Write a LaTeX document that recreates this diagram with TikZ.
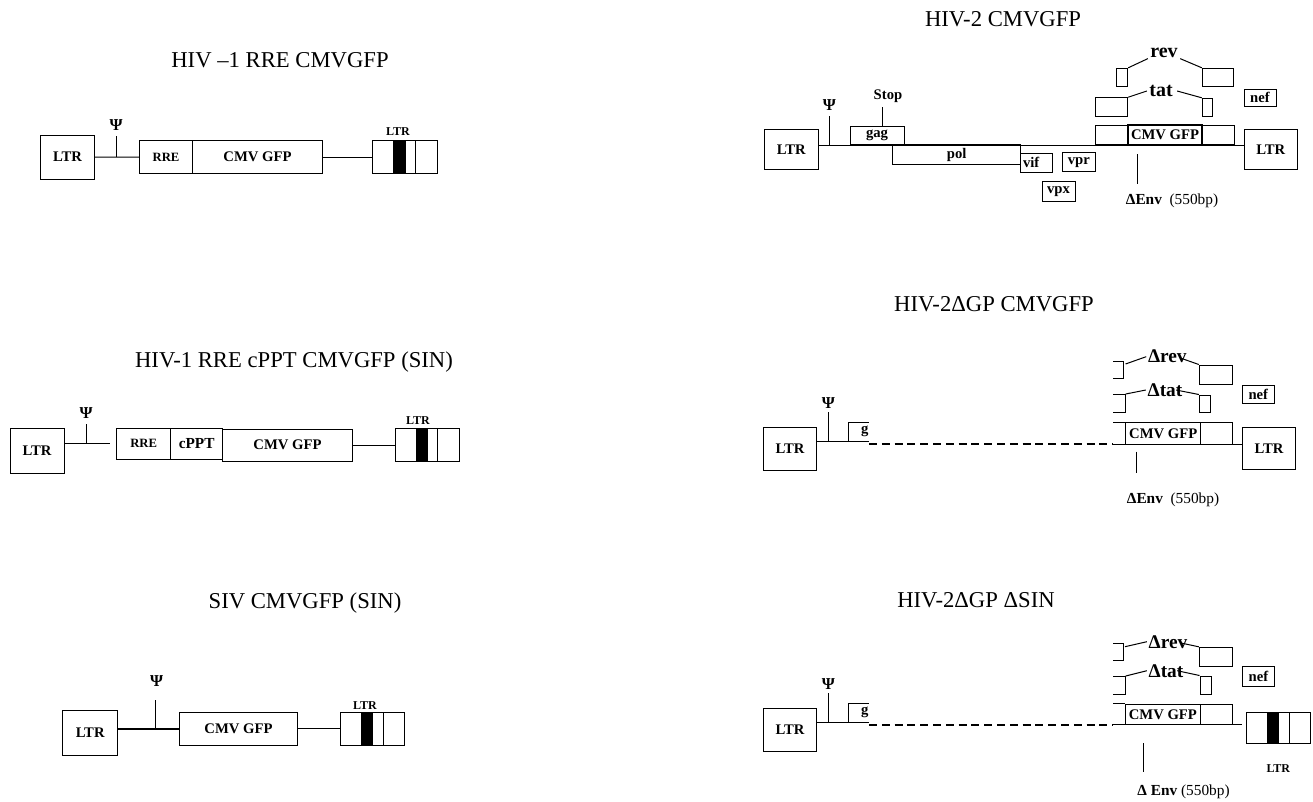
\documentclass[tikz,border=0pt]{standalone}
\usepackage{fontspec}
\setmainfont{Liberation Serif}
\newcommand\gb[7][]{\node[gbox,#1,minimum width={(#5-#3)*0.75pt},minimum height={(#6-#4)*0.75pt}] (#2) at ({(#3+#5)/2},{(#4+#6)/2}) {#7};}
\tikzset{
 gbox/.style={draw, rectangle, inner sep=0pt, line width=0.75pt, font=\fontsize{11}{13}\selectfont\bfseries},
 ttl/.style={font=\fontsize{17}{20}\selectfont, inner sep=0pt, anchor=base},
 lab/.style={font=\fontsize{11}{13}\selectfont\bfseries, inner sep=0pt},
 psil/.style={font=\fontsize{12.5}{14}\selectfont\bfseries, inner sep=0pt},
 slab/.style={font=\fontsize{9}{11}\selectfont\bfseries, inner sep=0pt},
 rfont/.style={font=\fontsize{9.5}{11}\selectfont\bfseries},
 glab/.style={font=\fontsize{15}{17}\selectfont\bfseries, inner sep=0pt},
 dlab/.style={font=\fontsize{14.5}{17}\selectfont\bfseries, inner sep=0pt},
 env/.style={font=\fontsize{11.5}{13}\selectfont, inner sep=0pt},
 ln/.style={line width=0.75pt},
 dashln/.style={line width=1.4pt, dash pattern=on 6pt off 3.6pt},
 thk/.style={line width=1.4pt},
}
\begin{document}
\begin{tikzpicture}[x=0.75pt,y=-0.75pt,line width=0.75pt]
\useasboundingbox (0,0) rectangle (1313,801);

% ================= Diagram 1 =================
\node[ttl] (t1) at (280,67) {HIV –1 RRE CMVGFP};
\gb{ltr1}{40.7}{135}{94.3}{179.3}{LTR}
\gb[rfont]{rre1}{139.3}{140.7}{192.7}{173.7}{RRE}
\gb{cmv1}{192.7}{140.7}{322.3}{173.7}{CMV GFP}
\gb{ltr1r}{372.7}{140.7}{437}{173.7}{}
\fill (393.3,140.7) rectangle (405.7,173.7);
\draw[ln] (415,140.7) -- (415,173.7);
\node[slab] (l1r) at (398,132) {LTR};
\draw[ln] (ltr1.east) -- (rre1.west);
\draw[ln] (cmv1.east) -- (ltr1r.west);
\coordinate (p1b) at (116,157.2); \coordinate (p1t) at (116,136);
\draw[ln] (p1b) -- (p1t);
\node[psil] (psi1) at (116,125) {Ψ};

% ================= Diagram 2 =================
\node[ttl] (t2) at (294,367) {HIV-1 RRE cPPT CMVGFP (SIN)};
\gb{ltr2}{10}{428.3}{64}{473.3}{LTR}
\gb[rfont]{rre2}{116.7}{428.3}{170.7}{459}{RRE}
\gb[font=\fontsize{11.5}{13}\selectfont\bfseries]{cppt2}{170.7}{428.3}{222.7}{459}{cPPT}
\gb{cmv2}{222.7}{429}{352.3}{461}{CMV GFP}
\gb{ltr2r}{395}{428.3}{459.3}{461}{}
\fill (415.7,428.3) rectangle (427.7,461);
\draw[ln] (437.7,428.3) -- (437.7,461);
\node[slab] (l2r) at (418,420.5) {LTR};
\coordinate (m2e) at (110,443.3);
\draw[ln] (ltr2.east |- m2e) -- (m2e);
\draw[ln] (cmv2.east) -- (ltr2r.west |- cmv2.east);
\coordinate (p2b) at (86,443.3); \coordinate (p2t) at (86,424);
\draw[ln] (p2b) -- (p2t);
\node[psil] (psi2) at (86,413) {Ψ};

% ================= Diagram 3 =================
\node[ttl] (t3) at (305,608) {SIV CMVGFP (SIN)};
\gb{ltr3}{62.7}{710}{117.7}{755}{LTR}
\gb{cmv3}{179.3}{712.3}{297.7}{745}{CMV GFP}
\gb{ltr3r}{340}{712.3}{404}{745}{}
\fill (361,712.3) rectangle (372.7,745);
\draw[ln] (383.3,712.3) -- (383.3,745);
\node[slab] (l3r) at (365,706) {LTR};
\draw[line width=1.3pt] (ltr3.east |- cmv3.west) -- (cmv3.west);
\draw[ln] (cmv3.east) -- (ltr3r.west);
\coordinate (p3b) at (155,728.6); \coordinate (p3t) at (155,700);
\draw[ln] (p3b) -- (p3t);
\node[psil] (psi3) at (156.7,681) {Ψ};

% ================= Diagram 4 =================
\node[ttl] (t4) at (1003,26) {HIV-2 CMVGFP};
\gb{ltr4}{764.3}{129.3}{818.3}{169.3}{LTR}
\gb{ltr4r}{1244}{129.3}{1297.7}{169.3}{LTR}
\gb{gag4}{850}{126}{904}{144.7}{gag}
\gb{pol4}{892.7}{144.7}{1020.7}{164.3}{pol}
\gb{vif4}{1020.7}{153.5}{1052.7}{172.5}{}
\node[lab,anchor=west] (vift) at (1022.5,162) {vif};
\gb{vpr4}{1062.7}{152.7}{1095}{171.7}{vpr}
\gb{vpx4}{1042}{181.7}{1075}{201.7}{vpx}
\gb{cma4}{1095}{125}{1127.7}{144.7}{}
\gb[thk]{cmv4}{1127.7}{125}{1202.3}{144.7}{CMV GFP}
\gb{cmb4}{1202.3}{125}{1234.3}{144.7}{}
\draw[ln] (ltr4.east |- gag4.south) -- (ltr4r.west |- gag4.south);
\coordinate (p4b) at (829.3,144.7); \coordinate (p4t) at (829.3,116);
\draw[ln] (p4b) -- (p4t);
\node[psil] (psi4) at (829.3,105) {Ψ};
\coordinate (s4b) at (882.7,126); \coordinate (s4t) at (882.7,106.7);
\draw[ln] (s4b) -- (s4t);
\node[lab] (stop4) at (888,96) {Stop};
\coordinate (e4t) at (1137.7,154.3); \coordinate (e4b) at (1137.7,184);
\draw[ln] (e4t) -- (e4b);
\node[env] (env4) at (1172,201) {\textbf{ΔEnv}~~(550bp)};
% rev / tat
\node[glab] (rev4) at (1164,53.3) {rev};
\gb{revl4}{1116.7}{68.3}{1127.7}{86.7}{}
\gb{revr4}{1202.3}{68.3}{1233.3}{86.7}{}
\draw[ln] (revl4.north east) -- ([xshift=-1.5]rev4.south west);
\draw[ln] ([xshift=1.5]rev4.south east) -- (revr4.north west);
\node[glab] (tat4) at (1161,91) {tat};
\gb{tatl4}{1095}{97.7}{1127.7}{116.7}{}
\gb{tatr4}{1202.3}{98.3}{1212.3}{116.7}{}
\draw[ln] (tatl4.north east) -- ([xshift=-1.5]tat4.west);
\draw[ln] ([xshift=3]tat4.east) -- (tatr4.north west);
\gb{nef4}{1244}{89.3}{1276}{106}{nef}

% ================= Diagram 5 =================
\node[ttl] (t5) at (994,311) {HIV-2ΔGP CMVGFP};
\gb{ltr5}{763.3}{427.7}{816.7}{470}{LTR}
\coordinate (g5a) at (848.3,441.7); \coordinate (g5b) at (869,441.7);
\draw[ln] (ltr5.east |- g5a) -- (g5b);
\draw[ln] (g5a) -- (848.3,422.7) -- (869,422.7);
\node[lab,anchor=east] (g5) at (869,431) {g};
\coordinate (p5b) at (828.3,441.7); \coordinate (p5t) at (828.3,412.3);
\draw[ln] (p5b) -- (p5t);
\node[psil] (psi5) at (828.3,402.7) {Ψ};
\coordinate (d5e) at (1113.3,444.3);
\draw[dashln] (869,444.3) -- (d5e);
\gb{cmv5}{1125.7}{422.7}{1200.7}{444.3}{\raisebox{-1.5pt}{CMV GFP}}
\gb{cmb5}{1200.7}{422.7}{1232.7}{444.3}{}
\draw[ln] (d5e |- cmv5.north) -- (cmv5.north west);
\gb{ltr5r}{1242.3}{427.3}{1295.7}{469.3}{LTR}
\draw[ln] (d5e) -- (ltr5r.west |- d5e);
\gb{nef5}{1242.3}{385}{1274.3}{403.3}{nef}
% delta rev
\node[dlab] (rev5) at (1167.3,356.7) {Δrev};
\draw[ln] (1113.3,361.7) -- (1123.3,361.7) -- (1123.3,378.3) -- (1113.3,378.3);
\gb{revr5}{1199.3}{365}{1232.7}{384.3}{}
\draw[ln] (1125.5,364) -- ([xshift=-1]rev5.west);
\draw[ln] ([xshift=-5,yshift=-1]rev5.east) -- (revr5.north west);
% delta tat
\node[dlab] (tat5) at (1165,390) {Δtat};
\draw[ln] (1113.3,394) -- (1125.7,394) -- (1125.7,412.3) -- (1113.3,412.3);
\gb{tatr5}{1199.3}{395}{1210.7}{412.3}{}
\draw[ln] (1125.7,394) -- ([xshift=-1]tat5.west);
\draw[ln] ([xshift=-5]tat5.east) -- (tatr5.north west);
\coordinate (e5t) at (1136,451.7); \coordinate (e5b) at (1136,473.3);
\draw[ln] (e5t) -- (e5b);
\node[env] (env5) at (1173,500) {\textbf{ΔEnv}~~(550bp)};

% ================= Diagram 6 =================
\node[ttl] (t6) at (976,607) {HIV-2ΔGP ΔSIN};
\gb{ltr6}{763.3}{708.7}{816.7}{751}{LTR}
\coordinate (g6a) at (848.3,722.7); \coordinate (g6b) at (869,722.7);
\draw[ln] (ltr6.east |- g6a) -- (g6b);
\draw[ln] (g6a) -- (848.3,703.7) -- (869,703.7);
\node[lab,anchor=east] (g6) at (869,712) {g};
\coordinate (p6b) at (828.3,722.7); \coordinate (p6t) at (828.3,693.3);
\draw[ln] (p6b) -- (p6t);
\node[psil] (psi6) at (828.3,683.7) {Ψ};
\coordinate (d6s) at (869,725.3); \coordinate (d6d) at (1113.3,725.3);
\draw[dashln] (d6s) -- (d6d);
\coordinate (d6e) at (1113.3,724.3);
\gb{cmv6}{1125.7}{704.3}{1200}{724.3}{\raisebox{-1.5pt}{CMV GFP}}
\gb{cmb6}{1200}{704.3}{1232.7}{724.3}{}
\draw[ln] (d6e |- cmv6.north) -- (cmv6.north west);
\coordinate (m6e) at (1242.3,724.3);
\draw[ln] (d6e) -- (m6e);
\gb{ltr6r}{1246.7}{712.3}{1310.7}{743.3}{}
\fill (1267.3,712.3) rectangle (1279.3,743.3);
\draw[ln] (1289,712.3) -- (1289,743.3);
\node[slab] (l6r) at (1278.3,769) {LTR};
\gb{nef6}{1242.7}{666}{1274.3}{686}{nef}
% delta rev
\node[dlab] (rev6) at (1168,641.7) {Δrev};
\draw[ln] (1113.3,643.3) -- (1123.3,643.3) -- (1123.3,660) -- (1113.3,660);
\gb{revr6}{1199.3}{647.3}{1232.7}{666}{}
\draw[ln] (1125,646.7) -- ([xshift=-1]rev6.west);
\draw[ln] ([xshift=-5,yshift=-1]rev6.east) -- (revr6.north west);
% delta tat
\node[dlab] (tat6) at (1166,670.7) {Δtat};
\draw[ln] (1113.3,676) -- (1125.7,676) -- (1125.7,694.3) -- (1113.3,694.3);
\gb{tatr6}{1200}{676}{1211}{694.3}{}
\draw[ln] (1125.7,676) -- ([xshift=-1]tat6.west);
\draw[ln] ([xshift=-5]tat6.east) -- (tatr6.north west);
\coordinate (e6t) at (1143.3,743.3); \coordinate (e6b) at (1143.3,771.7);
\draw[ln] (e6t) -- (e6b);
\node[env] (env6) at (1183.5,791.7) {\textbf{Δ Env}~(550bp)};
\end{tikzpicture}
\end{document}
